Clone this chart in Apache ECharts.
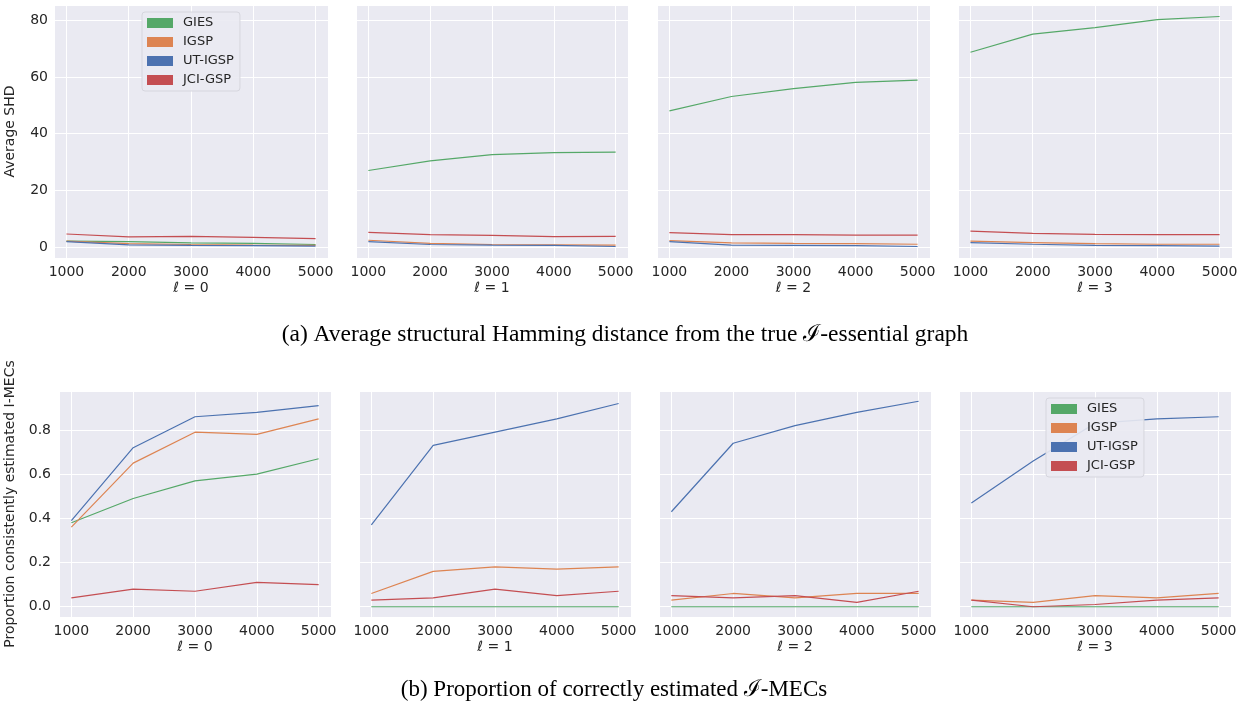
<!DOCTYPE html>
<html>
	<head>
		<meta charset="utf-8">
		<title></title>
		<script src="https://cdn.jsdelivr.net/npm/echarts@6/dist/echarts.min.js"></script>
	</head>
	<body style="margin:0;background:#fff">
		<div id="main" style="width:1245px;height:706px;"></div>
		<script type="text/javascript">
		// sample sizes on the x axis, one line per method per panel (ℓ = 0..3)
		var sampleSizes = [1000, 2000, 3000, 4000, 5000];
		var levels = ['0', '1', '2', '3'];
		var methods = ['GIES', 'IGSP', 'UT-IGSP', 'JCI-GSP'];
		var colors = ['#55a868', '#dd8452', '#4c72b0', '#c44e52'];

		// (a) average SHD
		var shdGIES = [
			[2.1, 1.9, 1.5, 1.3, 0.9],
			[27.0, 30.4, 32.6, 33.3, 33.5],
			[48.0, 53.1, 55.9, 58.1, 58.9],
			[68.7, 75.1, 77.4, 80.2, 81.3]
		];
		var shdIGSP = [
			[2.1, 1.2, 0.9, 0.7, 0.6],
			[2.4, 1.3, 0.9, 0.8, 0.7],
			[2.3, 1.5, 1.3, 1.2, 1.0],
			[2.1, 1.6, 1.2, 1.0, 1.0]
		];
		var shdUTIGSP = [
			[1.9, 0.8, 0.6, 0.5, 0.35],
			[1.9, 0.9, 0.7, 0.6, 0.2],
			[1.9, 0.7, 0.6, 0.5, 0.2],
			[1.6, 1.0, 0.6, 0.5, 0.35]
		];
		var shdJCIGSP = [
			[4.6, 3.6, 3.8, 3.4, 3.0],
			[5.2, 4.4, 4.1, 3.7, 3.8],
			[5.1, 4.4, 4.4, 4.2, 4.2],
			[5.6, 4.8, 4.5, 4.4, 4.4]
		];

		// (b) proportion of correctly estimated I-MECs
		var propGIES = [
			[0.38, 0.49, 0.57, 0.60, 0.67],
			[0, 0, 0, 0, 0],
			[0, 0, 0, 0, 0],
			[0, 0, 0, 0, 0]
		];
		var propIGSP = [
			[0.36, 0.65, 0.79, 0.78, 0.85],
			[0.06, 0.16, 0.18, 0.17, 0.18],
			[0.03, 0.06, 0.04, 0.06, 0.06],
			[0.03, 0.02, 0.05, 0.04, 0.06]
		];
		var propUTIGSP = [
			[0.39, 0.72, 0.86, 0.88, 0.91],
			[0.37, 0.73, 0.79, 0.85, 0.92],
			[0.43, 0.74, 0.82, 0.88, 0.93],
			[0.47, 0.66, 0.83, 0.85, 0.86]
		];
		var propJCIGSP = [
			[0.04, 0.08, 0.07, 0.11, 0.10],
			[0.03, 0.04, 0.08, 0.05, 0.07],
			[0.05, 0.04, 0.05, 0.02, 0.07],
			[0.03, 0.00, 0.01, 0.03, 0.04]
		];

		var shdData = [shdGIES, shdIGSP, shdUTIGSP, shdJCIGSP];
		var propData = [propGIES, propIGSP, propUTIGSP, propJCIGSP];

		// matplotlib style 5% margins
		function limits(arrs) {
			var lo = Infinity, hi = -Infinity;
			arrs.forEach(function (m) { m.forEach(function (r) { r.forEach(function (v) {
				lo = Math.min(lo, v); hi = Math.max(hi, v);
			}); }); });
			var pad = (hi - lo) * 0.05;
			return [lo - pad, hi + pad];
		}
		var shdLim = limits(shdData);
		var propLim = limits(propData);
		var xPad = (sampleSizes[4] - sampleSizes[0]) * 0.05;

		var txt = '#262626';
		var font = 'DejaVu Sans';

		var rows = [
			{ top: 5, height: 253, lefts: [54, 356, 657, 958], widths: [274, 272, 273, 274],
			  data: shdData, lim: shdLim, step: 20, yName: 'Average SHD', nameGap: 37, margin: 6 },
			{ top: 391, height: 226, lefts: [59, 359, 659, 959], widths: [272, 272, 272, 272],
			  data: propData, lim: propLim, step: 0.2, yName: 'Proportion consistently estimated I-MECs', nameGap: 42, margin: 8 }
		];

		var grids = [], xAxes = [], yAxes = [], series = [];
		rows.forEach(function (row, r) {
			levels.forEach(function (lv, p) {
				var g = grids.length;
				grids.push({
					left: row.lefts[p], top: row.top, width: row.widths[p], height: row.height,
					show: true, backgroundColor: '#eaeaf2', borderWidth: 0
				});
				xAxes.push({
					gridIndex: g, type: 'value',
					min: sampleSizes[0] - xPad, max: sampleSizes[4] + xPad,
					minInterval: 1000, maxInterval: 1000,
					name: '{i|ℓ} = ' + lv, nameLocation: 'middle', nameGap: 23,
					nameTextStyle: { color: txt, fontSize: 14, fontFamily: font,
						rich: { i: { fontStyle: 'italic', fontSize: 14, fontFamily: font, color: txt } } },
					axisLine: { show: false }, axisTick: { show: false },
					axisLabel: { color: txt, fontSize: 14, fontFamily: font, margin: 7,
						showMinLabel: false, showMaxLabel: false,
						formatter: function (v) { return String(v); } },
					splitLine: { show: true, lineStyle: { color: '#ffffff', width: 1 } }
				});
				yAxes.push({
					gridIndex: g, type: 'value',
					min: row.lim[0], max: row.lim[1],
					minInterval: row.step, maxInterval: row.step,
					name: p === 0 ? row.yName : '', nameLocation: 'middle', nameGap: row.nameGap,
					nameTextStyle: { color: txt, fontSize: 14, fontFamily: font },
					axisLine: { show: false }, axisTick: { show: false },
					axisLabel: { show: p === 0, color: txt, fontSize: 14, fontFamily: font, margin: row.margin,
						showMinLabel: false, showMaxLabel: false,
						formatter: function (v) { return row.step < 1 ? v.toFixed(1) : String(v); } },
					splitLine: { show: true, lineStyle: { color: '#ffffff', width: 1 } }
				});
				methods.forEach(function (m, k) {
					series.push({
						name: m, type: 'line', xAxisIndex: g, yAxisIndex: g,
						data: sampleSizes.map(function (x, i) { return [x, row.data[k][p][i]]; }),
						symbol: 'none', color: colors[k],
						lineStyle: { width: 1.2, color: colors[k] }
					});
				});
			});
		});

		function legendAt(left, top) {
			return {
				orient: 'vertical', left: left, top: top,
				data: methods, icon: 'rect', itemWidth: 26, itemHeight: 10, itemGap: 3,
				padding: [3, 6, 3, 5],
				backgroundColor: 'rgba(234,234,242,0.9)', borderColor: '#d6d6de', borderWidth: 1, borderRadius: 3,
				textStyle: { color: txt, fontSize: 13, fontFamily: font, lineHeight: 16, padding: [0, 0, 0, 5] }
			};
		}

		var myChart = echarts.init(document.getElementById('main'));
		myChart.setOption({
			animation: false,
			color: colors,
			legend: [legendAt(142, 12), legendAt(1046, 398)],
			grid: grids, xAxis: xAxes, yAxis: yAxes, series: series,
			graphic: [
				{ type: 'text', x: 625, y: 335, style: { text: '(a) Average structural Hamming distance from the true ℐ-essential graph',
					fill: '#000', fontSize: 23.5, fontFamily: 'Liberation Serif', textAlign: 'center', textVerticalAlign: 'middle' } },
				{ type: 'text', x: 614, y: 690, style: { text: '(b) Proportion of correctly estimated ℐ-MECs',
					fill: '#000', fontSize: 23, fontFamily: 'Liberation Serif', textAlign: 'center', textVerticalAlign: 'middle' } }
			]
		});
		</script>
	</body>
</html>
